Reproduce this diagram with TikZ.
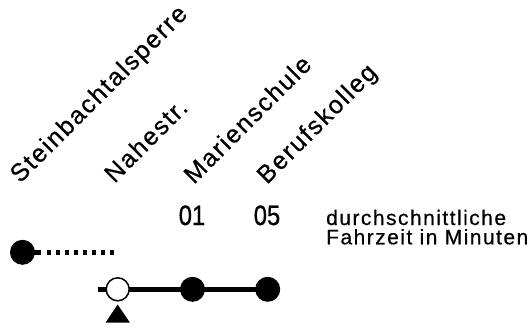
\documentclass[tikz,border=0pt]{standalone}
\usepackage{fontspec}
\setmainfont{Liberation Sans}
\newfontfamily\labfont[LetterSpace=7,FakeBold=0.6]{Liberation Sans}
\newfontfamily\legfont[LetterSpace=7,FakeBold=0.5]{Liberation Sans}
\newfontfamily\numfont[FakeStretch=0.85,FakeBold=0.8]{Liberation Sans}
\pgfdeclarelayer{background}
\pgfsetlayers{background,main}
\tikzset{
  stop/.style={circle, minimum size=25pt, inner sep=0pt, fill=black},
  openstop/.style={circle, minimum size=23pt, inner sep=0pt, fill=white, draw=black, line width=1.5pt},
  stoplabel/.style={rotate=45, anchor=base west, inner sep=0pt, font=\labfont\fontsize{25}{25}\selectfont},
  timelabel/.style={anchor=base, inner sep=0pt, font=\numfont\fontsize{28}{28}\selectfont},
  legend/.style={anchor=base west, inner sep=0pt, font=\legfont\fontsize{21}{20}\selectfont},
  route/.style={line width=5.5pt},
  stub/.style={line width=4.8pt},
  future/.style={line width=4.8pt, dash pattern=on 4pt off 5pt},
}
\begin{document}
\begin{tikzpicture}[x=1pt,y=-1pt]
\useasboundingbox (0,0) rectangle (531,332);
% stops
\node[stop] (stein) at (22.5,252.3) {};
\node[openstop] (nahe) at (117.7,289.3) {};
\node[stop] (marien) at (192.5,289.3) {};
\node[stop] (beruf) at (267.7,289.3) {};
\coordinate (steinstub) at (41,252.3);
\coordinate (dotstart) at (46.5,252.3);
\coordinate (dotend) at (114,252.3);
\coordinate (nahestub) at (98.3,289.3);
% connectors
\begin{pgfonlayer}{background}
\draw[stub] (stein.center) -- (steinstub);
\draw[future] (dotstart) -- (dotend);
\draw[route] (nahestub) -- (nahe.center);
\draw[route] (nahe.center) -- (marien.center);
\draw[route] (marien.center) -- (beruf.center);
\end{pgfonlayer}
% marker
\fill (117.7,304.5) -- (129.8,322.5) -- (105.6,322.5) -- cycle;
% stop names
\node[stoplabel] (lstein) at (20,184) {Steinbachtalsperre};
\node[stoplabel] (lnahe) at (114.5,184) {Nahestr.};
\node[stoplabel] (lmarien) at (194,185) {Marienschule};
\node[stoplabel] (lberuf) at (267,185) {Berufskolleg};
% times
\node[timelabel] (t1) at (192,225) {01};
\node[timelabel] (t5) at (267,225) {05};
% legend
\node[legend] (leg1) at (326,225) {durchschnittliche};
\node[legend] (leg2) at (326,244.3) {Fahrzeit in Minuten};
\end{tikzpicture}
\end{document}
